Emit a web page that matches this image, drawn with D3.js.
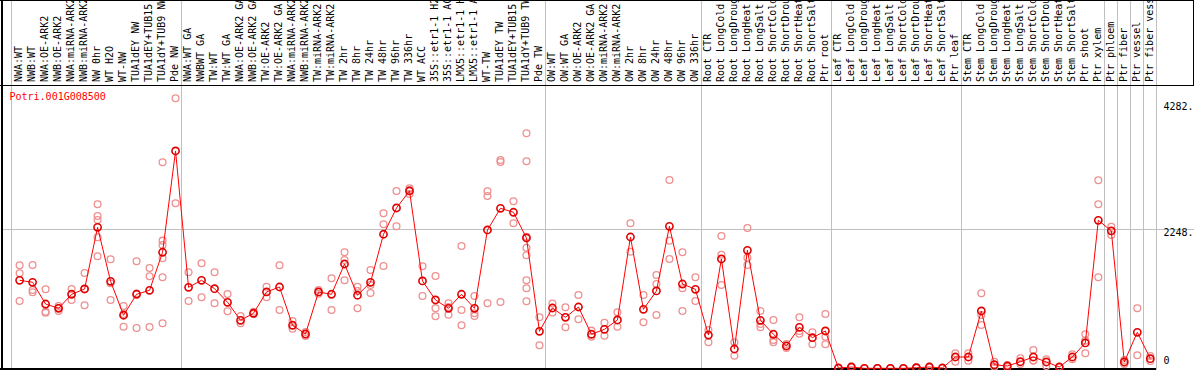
<!doctype html>
<html>
<head>
<script src="https://cdnjs.cloudflare.com/ajax/libs/d3/7.8.5/d3.min.js"></script>
<style>
  body { margin: 0; background: #fff; }
  svg { display: block; }
  text { font-family: "DejaVu Sans Mono", monospace; font-size: 10px; }
</style>
</head>
<body>
<svg id="chart" width="1194" height="370"></svg>
<script>
  var geneId = "Potri.001G008500";

  var samples = [
    "NWA:WT", "NWB:WT", "NWA:OE-ARK2", "NWB:OE-ARK2", "NWA:miRNA-ARK2", "NWB:miRNA-ARK2",
    "NW 0hr", "WT H2O", "WT-NW", "TUA1dEY NW", "TUA1dEY+TUB15 NW", "TUA1dY+TUB9 NW", "Pde NW",
    "NWA:WT GA", "NWBWT GA", "TW:WT", "TW:WT GA", "NWA:OE-ARK2 GA", "NWB:OE-ARK2 GA",
    "TW:OE-ARK2", "TW:OE-ARK2 GA", "NWA:miRNA-ARK2 GA", "NWB:miRNA-ARK2 GA", "TW:miRNA-ARK2",
    "TW:miRNA-ARK2 GA", "TW 2hr", "TW 8hr", "TW 24hr", "TW 48hr", "TW 96hr", "TW 336hr", "WT ACC",
    "35S::etr1-1 H2O", "35S::etr1-1 ACC", "LMX5::etr1-1 H2O", "LMX5::etr1-1 ACC", "WT-TW",
    "TUA1dEY TW", "TUA1dEY+TUB15 TW", "TUA1dY+TUB9 TW", "Pde TW",
    "OW:WT", "OW:WT GA", "OW:OE-ARK2", "OW:OE-ARK2 GA", "OW:miRNA-ARK2", "OW:miRNA-ARK2 GA",
    "OW 2hr", "OW 8hr", "OW 24hr", "OW 48hr", "OW 96hr", "OW 336hr",
    "Root CTR", "Root LongCold", "Root LongDrought", "Root LongHeat", "Root LongSalt",
    "Root ShortCold", "Root ShortDrought", "Root ShortHeat", "Root ShortSalt", "Ptr root",
    "Leaf CTR", "Leaf LongCold", "Leaf LongDrought", "Leaf LongHeat", "Leaf LongSalt",
    "Leaf ShortCold", "Leaf ShortDrought", "Leaf ShortHeat", "Leaf ShortSalt", "Ptr leaf",
    "Stem CTR", "Stem LongCold", "Stem LongDrought", "Stem LongHeat", "Stem LongSalt",
    "Stem ShortCold", "Stem ShortDrought", "Stem ShortHeat", "Stem ShortSalt", "Ptr shoot",
    "Ptr xylem", "Ptr phloem", "Ptr fiber", "Ptr vessel", "Ptr fiber vessel"
  ];

  // mean expression per sample
  var means = [
    1420, 1388, 1038, 969, 1195, 1280, 2273, 1404, 857, 1195, 1259, 1871, 3502,
    1307, 1420, 1285, 1066, 776, 889, 1232, 1312, 696, 555, 1232, 1195, 1682, 1179, 1388,
    2161, 2584, 2858, 1409, 1103, 969, 1195, 969, 2230, 2579, 2515, 2101, 599,
    974, 824, 990, 551, 631, 781, 2117, 953, 1248, 2289, 1360, 1275,
    539, 1763, 314, 1903, 776, 551, 362, 663, 496, 604,
    8, 24, 3, 3, 3, 3, 13, 24, 8, 185,
    185, 926, 61, 40, 109, 185, 105, 24, 185, 411,
    2386, 2214, 105, 583, 158
  ];

  // individual replicates per sample
  var reps = [
    [1661, 1533, 1087], [1666, 1264, 1227], [1275, 914, 898], [1006, 974, 926], [1280, 1199, 1103],
    [1538, 1280, 1018], [2644, 2455, 2391, 2112, 1806], [1758, 1372, 1103], [1006, 877, 673],
    [1726, 1206, 652], [1618, 1484, 668], [3320, 2058, 1988, 1774, 1468, 728], [4350, 2660],
    [1549, 1087], [1694, 1146], [1549, 1050], [1199, 921], [845, 728], [914, 877], [1317, 1146],
    [1661, 942], [765, 641], [588, 523], [1264, 1204], [1452, 942], [1871, 1747, 1420],
    [1317, 1248, 969], [1586, 1344, 1216], [2499, 2322, 1650], [2858, 2289], [2900, 2870, 2810],
    [1645, 1167], [1489, 969, 840], [1050, 990, 866], [1972, 942, 696], [1167, 889, 845],
    [2853, 2777, 1050], [3357, 3325, 1071], [2692, 2338],
    [3787, 3336, 2122, 1945, 1823, 1420, 1291, 1082], [824, 374],
    [1047, 902], [985, 663], [1183, 792], [609, 512], [737, 528], [905, 673], [2338, 1880],
    [1183, 744], [1505, 1360, 861], [3035, 2058, 1763], [1871, 1291, 926], [1468, 1087],
    [620, 422], [2133, 1832, 1344], [422, 206], [2262, 1784, 1666], [926, 716, 663],
    [781, 459, 422], [394, 330], [824, 604, 560], [583, 390], [877, 512, 390],
    [3, 13], [18, 30], [1, 5], [2, 4], [1, 5], [2, 4], [8, 18], [16, 32], [5, 11], [245, 109],
    [245, 126], [1211, 861, 700], [109, 29], [56, 24], [164, 72], [298, 130, 127], [148, 40],
    [20, 28], [229, 148], [551, 448, 245],
    [3030, 2644, 1468], [2283, 2149], [137, 72], [969, 213], [201, 121]
  ];

  // 1-based index of the last sample in each block (grey separators)
  var groupEnds = [13, 41, 53, 63, 73, 84, 85, 86, 87, 88];

  var yTicks = [0, 2248, 4282];
  var yTickLabels = ["0", "2248.", "4282."];

  var W = 1194, H = 370;
  var headerY = 85, plotBottom = 368.5, plotRight = 1156;

  var svg = d3.select("#chart");

  var x = d3.scalePoint()
            .domain(d3.range(samples.length))
            .range([19.6, 1150.3]);
  var y = d3.scaleLinear()
            .domain([0, 4282]).range([plotBottom, 102.5]);

  // grey group separators
  var sepX = [x(0) - 9].concat(groupEnds.map(g => x(g - 1) + 5.5));
  svg.selectAll("line.sep")
     .data(sepX)
     .enter()
     .append("line")
     .attr("class", "sep")
     .attr("x1", d => Math.round(d) + 0.5).attr("x2", d => Math.round(d) + 0.5)
     .attr("y1", 0).attr("y2", H)
     .style("stroke", "#c0c0c0").style("stroke-width", "1px");

  // horizontal grid lines for inner ticks
  svg.selectAll("line.grid")
     .data(yTicks.filter((t, i) => i > 0 && i < yTicks.length - 1))
     .enter()
     .append("line")
     .attr("class", "grid")
     .attr("x1", 2).attr("x2", W)
     .attr("y1", d => Math.round(y(d)) + 0.5).attr("y2", d => Math.round(y(d)) + 0.5)
     .style("stroke", "#c0c0c0").style("stroke-width", "1px");

  // frame
  svg.append("line").attr("x1", 0).attr("x2", W).attr("y1", 0.5).attr("y2", 0.5)
     .style("stroke", "black");
  svg.append("line").attr("x1", 0).attr("x2", W).attr("y1", headerY + 0.5).attr("y2", headerY + 0.5)
     .style("stroke", "black");
  svg.append("line").attr("x1", 2).attr("x2", 2).attr("y1", 0).attr("y2", H)
     .style("stroke", "black").style("stroke-width", "2px");
  svg.append("line").attr("x1", 0).attr("x2", plotRight).attr("y1", 369).attr("y2", 369)
     .style("stroke", "black").style("stroke-width", "2px");
  svg.append("line").attr("x1", W - 0.5).attr("x2", W - 0.5).attr("y1", 0).attr("y2", headerY)
     .style("stroke", "black");

  // rotated sample labels
  svg.selectAll("text.sample")
     .data(samples)
     .enter()
     .append("text")
     .attr("class", "sample")
     .attr("transform", (d, i) => "translate(" + (x(i) + 2.3) + "," + 82 + ") rotate(-90)")
     .style("fill", "black")
     .text(d => d);

  // y tick labels on the right
  svg.selectAll("text.ytick")
     .data(yTicks)
     .enter()
     .append("text")
     .attr("class", "ytick")
     .attr("x", 1163.5)
     .attr("y", d => d === 0 ? y(d) - 4.2 : y(d) + 7.5)
     .style("fill", "black")
     .text((d, i) => yTickLabels[i]);

  // replicates
  var repPts = [];
  reps.forEach((r, i) => r.forEach(v => repPts.push({i: i, v: v})));
  svg.selectAll("circle.rep")
     .data(repPts)
     .enter()
     .append("circle")
     .attr("class", "rep")
     .attr("cx", d => x(d.i))
     .attr("cy", d => y(d.v))
     .attr("r", 3.4)
     .style("fill", "none")
     .style("stroke", "#ee9090")
     .style("stroke-width", "1.3px");

  // mean line
  var line = d3.line()
               .x((d, i) => x(i))
               .y(d => y(d));
  svg.append("path")
     .datum(means)
     .attr("d", line)
     .style("fill", "none")
     .style("stroke", "#ff0000")
     .style("stroke-width", "1px");

  svg.selectAll("circle.mean")
     .data(means)
     .enter()
     .append("circle")
     .attr("class", "mean")
     .attr("cx", (d, i) => x(i))
     .attr("cy", d => y(d))
     .attr("r", 3.6)
     .style("fill", "none")
     .style("stroke", "#e00000")
     .style("stroke-width", "1.6px");

  svg.append("text")
     .attr("x", 9.5).attr("y", 100)
     .style("fill", "#ff0000")
     .text(geneId);
</script>
</body>
</html>
